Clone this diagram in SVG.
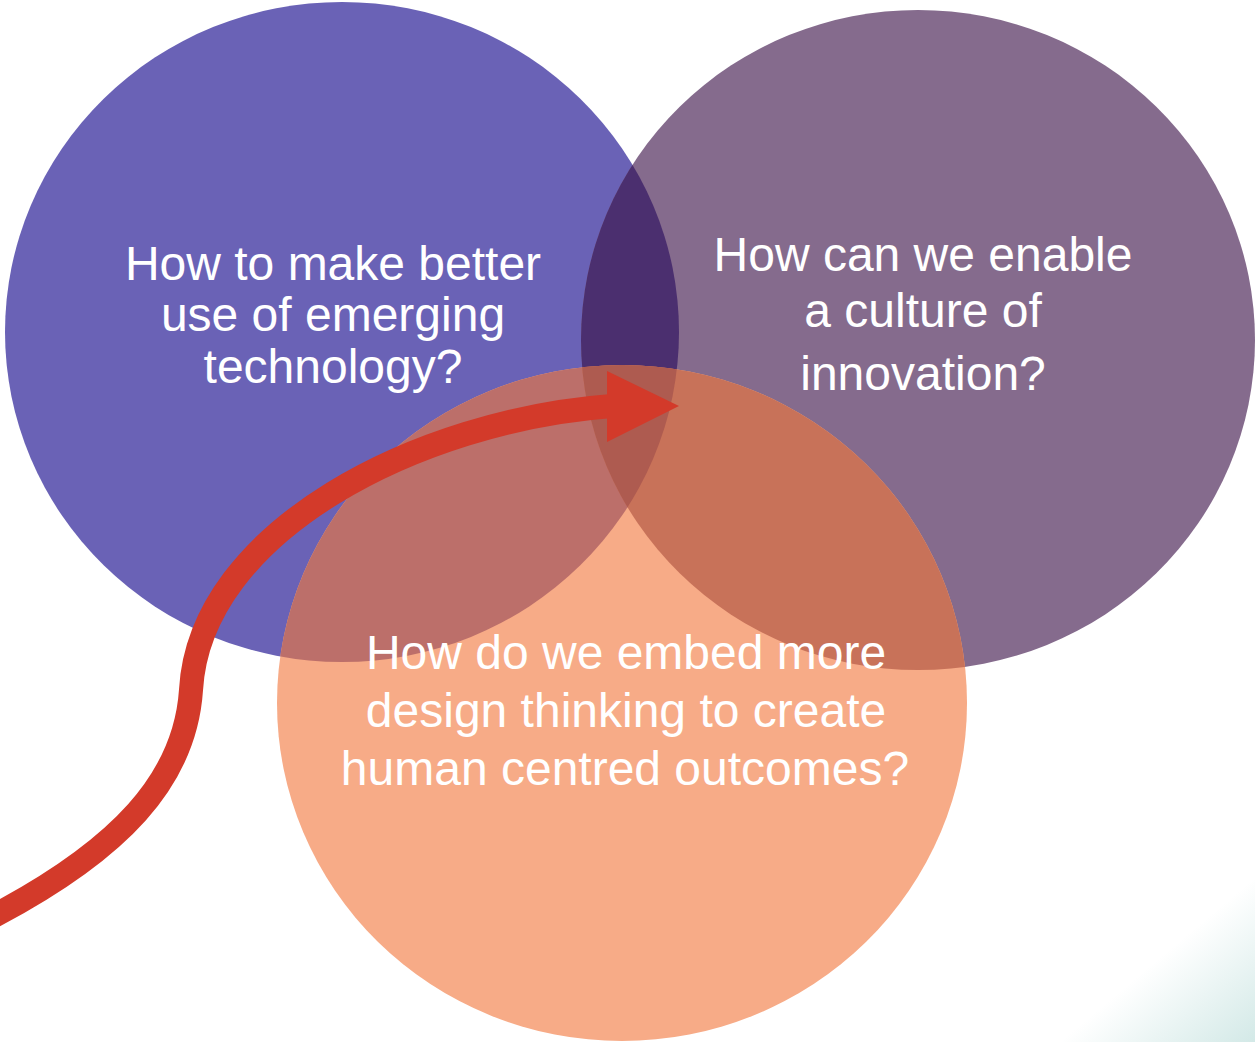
<svg xmlns="http://www.w3.org/2000/svg" width="1255" height="1042" viewBox="0 0 1255 1042">
<style>
  .lbl { font-family: "Liberation Sans", Arial, sans-serif; font-size: 48px; fill: #FFFFFF; text-anchor: middle; }
  .arrow { fill: none; stroke: #D33A2A; stroke-width: 24; }
</style>
<defs>
  <clipPath id="cBlue"><ellipse cx="342" cy="332" rx="337" ry="330"/></clipPath>
  <clipPath id="cPurple"><ellipse cx="918" cy="340" rx="337" ry="330"/></clipPath>
  <linearGradient id="gCorner" x1="1157" y1="960" x2="1238" y2="1056" gradientUnits="userSpaceOnUse">
    <stop offset="0" stop-color="#FFFFFF"/>
    <stop offset="1" stop-color="#D3E9E7"/>
  </linearGradient>
</defs>
<rect width="1255" height="1042" fill="#FFFFFF"/>
<polygon points="1060,1042 1255,878 1255,1042" fill="url(#gCorner)"/>

<g id="node-technology">
  <ellipse cx="342" cy="332" rx="337" ry="330" fill="#6A62B6"/>
</g>
<g id="node-culture">
  <ellipse cx="918" cy="340" rx="337" ry="330" fill="#856B8D"/>
</g>
<g id="node-design">
  <ellipse cx="622" cy="703" rx="345" ry="338" fill="#F7AB87"/>
</g>

<g id="overlaps">
  <ellipse cx="918" cy="340" rx="337" ry="330" fill="#4B2F6F" clip-path="url(#cBlue)"/>
  <ellipse cx="622" cy="703" rx="345" ry="338" fill="#BC6F6A" clip-path="url(#cBlue)"/>
  <ellipse cx="622" cy="703" rx="345" ry="338" fill="#C87259" clip-path="url(#cPurple)"/>
  <g clip-path="url(#cPurple)">
    <ellipse cx="622" cy="703" rx="345" ry="338" fill="#AE5B50" clip-path="url(#cBlue)"/>
  </g>
</g>

<g id="connectors">
  <path class="arrow" d="M -10 918 C 120 850 185 780 191 690 C 200 530 420 420 612 406"/>
  <polygon points="607,371 679,406 607,442" fill="#D33A2A"/>
</g>

<g id="labels">
  <g id="label-technology">
    <text class="lbl" x="333" y="280">How to make better</text>
    <text class="lbl" x="333" y="331">use of emerging</text>
    <text class="lbl" x="333" y="383">technology?</text>
  </g>
  <g id="label-culture">
    <text class="lbl" x="923" y="271">How can we enable</text>
    <text class="lbl" x="923" y="327">a culture of</text>
    <text class="lbl" x="923" y="390">innovation?</text>
  </g>
  <g id="label-design">
    <text class="lbl" x="626" y="669">How do we embed more</text>
    <text class="lbl" x="626" y="727">design thinking to create</text>
    <text class="lbl" x="625" y="785">human centred outcomes?</text>
  </g>
</g>
</svg>
